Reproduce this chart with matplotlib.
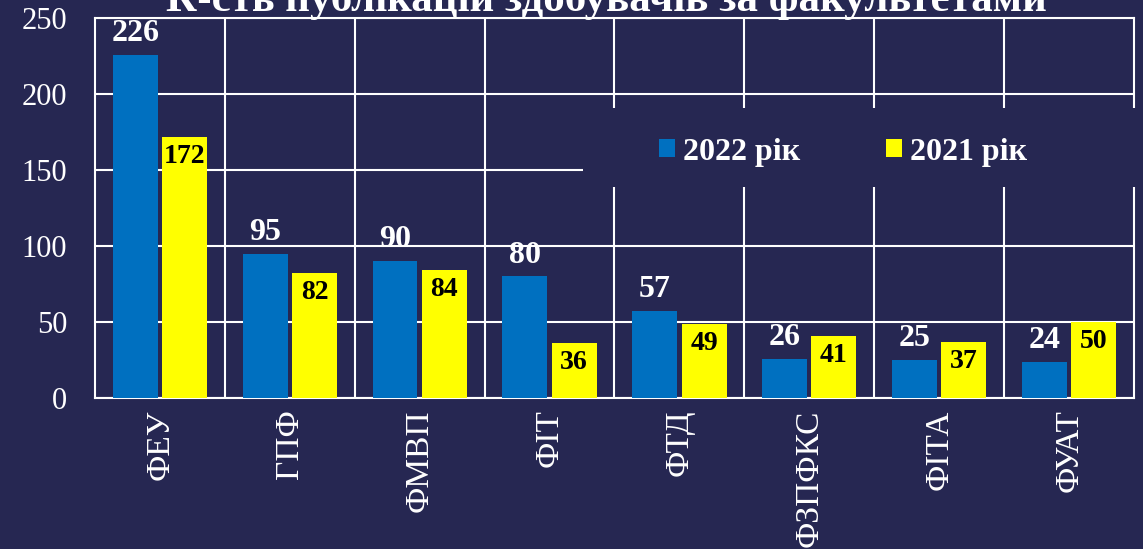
import matplotlib.pyplot as plt
import numpy as np
from matplotlib.patches import Rectangle

faculties = ["ФЕУ", "ГПФ", "ФМВП", "ФІТ", "ФТД", "ФЗПФКС", "ФІТА", "ФУАТ"]
pubs_2022 = [226, 95, 90, 80, 57, 26, 25, 24]
pubs_2021 = [172, 82, 84, 36, 49, 41, 37, 50]

bg = "#262752"
blue = "#0070C0"
yellow = "#FFFF00"

plt.rcParams["font.family"] = ["Liberation Serif", "DejaVu Serif"]

fig = plt.figure(figsize=(11.43, 5.49), dpi=100, facecolor=bg)
ax = fig.add_axes([0.0831, 0.275, 0.909, 0.692])
ax.set_facecolor(bg)

x = np.arange(len(faculties))
w = 0.346
b1 = ax.bar(x - 0.19, pubs_2022, w, color=blue, label="2022 рік", zorder=3)
b2 = ax.bar(x + 0.19, pubs_2021, w, color=yellow, label="2021 рік", zorder=3)

for rect, v in zip(b1, pubs_2022):
    ax.annotate(str(v), (rect.get_x() + rect.get_width() / 2, v),
                xytext=(0, 5), textcoords="offset points", ha="center", va="bottom",
                color="white", fontsize=23, fontweight="bold", zorder=5)
for rect, v in zip(b2, pubs_2021):
    ax.annotate(str(v), (rect.get_x() + rect.get_width() / 2, v),
                xytext=(0, -5), textcoords="offset points", ha="center", va="top",
                color="black", fontsize=20, fontweight="bold", zorder=5)

ax.set_xlim(-0.5, len(faculties) - 0.5)
ax.set_ylim(0, 250)
ax.set_yticks(range(0, 251, 50))
ax.set_xticks(x)
ax.set_xticklabels(faculties, rotation=90)
ax.set_xticks(np.arange(0.5, len(faculties) - 1, 1), minor=True)
ax.tick_params(axis="both", which="both", length=0, colors="white", labelsize=22)
ax.tick_params(axis="x", labelsize=24, pad=8)
ax.tick_params(axis="y", pad=20)
ax.grid(axis="y", color="white", linewidth=1.5, zorder=0)
ax.grid(axis="x", which="minor", color="white", linewidth=1.5, zorder=0)
for s in ax.spines.values():
    s.set_color("white")
    s.set_linewidth(1.5)

# backdrop under the legend, hides the grid there
ax.add_patch(Rectangle((0.47, 0.555), 0.532, 0.208, transform=ax.transAxes,
                       facecolor=bg, edgecolor="none", zorder=4, clip_on=False))
leg = ax.legend(loc="center", bbox_to_anchor=(0.72, 0.647), ncol=2, frameon=False,
                prop={"family": "Liberation Serif", "size": 23, "weight": "bold"},
                handlelength=0.5, handleheight=0.5, handletextpad=0.25, columnspacing=2.7)
leg.set_zorder(6)
for t in leg.get_texts():
    t.set_color("white")

fig.text(0.531, 0.98, "К-сть публікацій здобувачів за факультетами", ha="center",
         va="baseline", color="white", fontsize=31, fontweight="bold")

plt.savefig("out.png", dpi=100, facecolor=bg)
